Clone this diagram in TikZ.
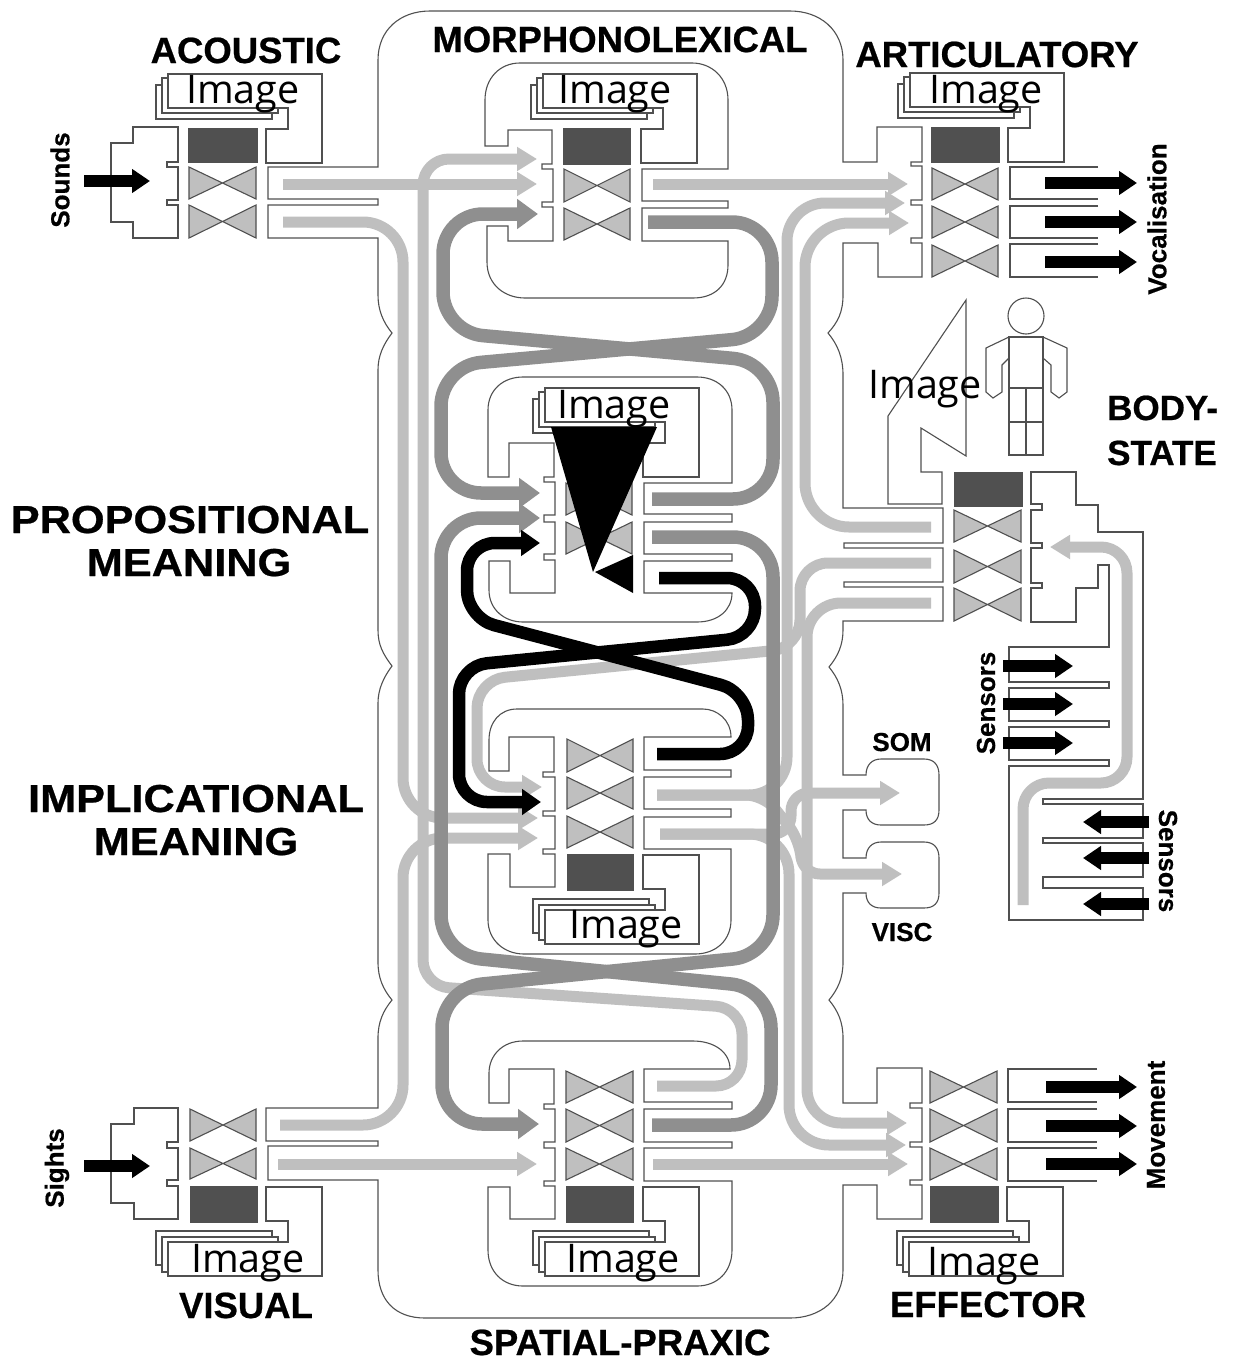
\documentclass[tikz,border=0pt]{standalone}
\usepackage{fontspec}
\setmainfont{Liberation Sans}[BoldFeatures={FakeBold=0.6}]
\newfontfamily\imgfont{Open Sans}
\usetikzlibrary{arrows.meta}
\definecolor{linec}{HTML}{505050}
\definecolor{lightg}{HTML}{BFBFBF}
\definecolor{medg}{HTML}{8F8F8F}
\definecolor{darkb}{HTML}{505050}
\tikzset{
 outl/.style={draw=linec,line width=1.1pt,line join=miter},
 tie/.style={draw=linec,line width=1.1pt,fill=lightg,line join=miter},
 darkrect/.style={fill=darkb,draw=darkb,line width=.5pt},
 lightflow/.style={draw=lightg,line width=11pt,line join=round,-{Triangle[length=20pt,width=23pt]}},
 medflow/.style={draw=medg,line width=13.5pt,line join=round,-{Triangle[length=21pt,width=29pt]}},
 blackflow/.style={draw=black,line width=12.5pt,line join=round,-{Triangle[length=19pt,width=25pt]}},
 bigarrow/.style={draw=black,line width=12pt,-{Triangle[length=18pt,width=23pt]}},
 imgtxt/.style={font=\imgfont\fontsize{39.5}{39.5}\selectfont,anchor=base,inner sep=0pt,text=black},
 title/.style={font=\bfseries\fontsize{36.5}{36.5}\selectfont,anchor=base,inner sep=0pt},
 meaning/.style={font=\bfseries\fontsize{39}{39}\selectfont,anchor=base,inner sep=0pt,xscale=1.11},
 sidelab/.style={font=\bfseries\fontsize{26}{26}\selectfont,anchor=center,inner sep=0pt},
}
\newcommand{\bowt}[4]{\draw[tie] (#1,#2)--(#3,#4)--(#3,#2)--(#1,#4)--cycle;}
\newcommand{\dkbox}[4]{\draw[darkrect] (#1,#2) rectangle (#3,#4);}
\newcommand{\imgstack}[3]{%
 \begin{scope}[shift={(#1,#2)},yscale=#3]
 \draw[outl,fill=white] (-32,-43) rectangle (84,-9);
 \draw[outl,fill=white] (-26,-50) rectangle (90,-15);
 \draw[outl,fill=white] (-20,-54)--(134,-54)--(134,35)--(78,35)--(78,1)--(100,1)--(100,-20)--(-20,-20)--cycle;
 \end{scope}}
\begin{document}
\begin{tikzpicture}[x=1pt,y=-1pt]
\useasboundingbox (0,0) rectangle (1234,1360);
\fill[white] (0,0) rectangle (1234,1360);

% big container with all external subsystem stubs
\draw[outl] (268,167)--(378,167)--(378,60).. controls (378,30) and (400,11) ..(430,11)--(790,11).. controls (820,11) and (843,30) ..(843,60)--(843,162)--(877,162)--(877,127)--(922,127)--(922,162)--(911,162)--(911,166)--(922,166)--(922,200)--(911,200)--(911,205)--(922,205)--(922,238)--(911,238)--(911,243)--(922,243)--(922,277)--(878,277)--(878,243)--(843,243)--(843,295).. controls (843,312) and (838,322) ..(828,333).. controls (838,345) and (843,358) ..(843,375)--(843,508)--(943,508)--(943,543)--(844,543)--(844,548)--(943,548)--(943,582)--(844,582)--(844,587)--(943,587)--(943,621)--(843,621)--(843,630).. controls (843,645) and (838,656) ..(829,667).. controls (838,678) and (843,690) ..(843,705)--(843,775)--(866,775).. controls (866,765) and (872,759) ..(881,759)--(924,759).. controls (934,759) and (939,765) ..(939,775)--(939,810).. controls (939,820) and (934,825) ..(924,825)--(881,825).. controls (872,825) and (866,820) ..(866,810)--(843,810)--(843,858)--(866,858).. controls (866,848) and (872,842) ..(881,842)--(924,842).. controls (934,842) and (939,848) ..(939,858)--(939,893).. controls (939,903) and (934,908) ..(924,908)--(881,908).. controls (872,908) and (866,903) ..(866,893)--(843,893)--(843,962).. controls (843,978) and (838,989) ..(829,1000).. controls (838,1011) and (843,1022) ..(843,1038)--(843,1103)--(877,1103)--(877,1068)--(922,1068)--(922,1103)--(910,1103)--(910,1108)--(922,1108)--(922,1142)--(910,1142)--(910,1147)--(922,1147)--(922,1180)--(910,1180)--(910,1185)--(922,1185)--(922,1219)--(877,1219)--(877,1185)--(843,1185)--(843,1270).. controls (843,1300) and (820,1318) ..(790,1318)--(425,1318).. controls (395,1318) and (378,1300) ..(378,1270)--(378,1180)--(268,1180)--(268,1146)--(378,1146)--(378,1141)--(266,1141)--(266,1108)--(378,1108)--(378,1038).. controls (378,1022) and (383,1011) ..(392,1000).. controls (383,989) and (378,978) ..(378,962)--(378,703).. controls (378,690) and (383,678) ..(392,666).. controls (383,654) and (378,645) ..(378,630)--(378,370).. controls (378,356) and (383,345) ..(392,333).. controls (383,322) and (378,310) ..(378,295)--(378,238)--(268,238)--(268,205)--(378,205)--(378,199)--(268,199)--cycle;

% acoustic
\draw[outl] (133,127)--(178,127)--(178,162)--(167,162)--(167,167)--(178,167)--(178,200)--(167,200)--(167,205)--(178,205)--(178,238)--(133,238)--(133,222)--(111,222)--(111,143)--(133,143)--cycle;
\imgstack{188}{128}{1}
\dkbox{188}{128}{257}{162}
\bowt{189}{167}{256}{199}
\bowt{189}{205}{256}{238}

% morphonolexical
\draw[outl] (485,146)--(508,146)--(508,130)--(552,130)--(552,164)--(542,164)--(542,169)--(553,169)--(553,202)--(542,202)--(542,207)--(553,207)--(553,241)--(508,241)--(508,226)--(487,226)--(487,262).. controls (487,285) and (505,298) ..(525,298)--(693,298).. controls (715,298) and (728,285) ..(728,265)--(728,241)--(642,241)--(642,208)--(728,208)--(728,201)--(642,201)--(642,169)--(728,169)--(728,100).. controls (728,78) and (712,63) ..(692,63)--(520,63).. controls (500,63) and (485,78) ..(485,100)--cycle;
\imgstack{563}{128}{1}
\dkbox{563}{128}{630}{164}
\bowt{564}{169}{630}{202}
\bowt{564}{208}{630}{240}

% articulatory
\imgstack{930}{127}{1}
\dkbox{931}{127}{999}{162}
\bowt{932}{168}{998}{200}
\bowt{932}{206}{998}{238}
\bowt{932}{245}{998}{277}
\draw[outl] (1098,167)--(1010,167)--(1010,199)--(1098,199);
\draw[outl] (1098,206)--(1010,206)--(1010,238)--(1098,238);
\draw[outl] (1098,244)--(1010,244)--(1010,277)--(1098,277);

% propositional
\draw[outl] (488,477)--(509,477)--(509,443)--(554,443)--(554,477)--(544,477)--(544,482)--(555,482)--(555,515)--(544,515)--(544,522)--(555,522)--(555,554)--(544,554)--(544,560)--(555,560)--(555,593)--(510,593)--(510,561)--(489,561)--(489,590).. controls (489,610) and (505,622) ..(523,622)--(697,622).. controls (718,622) and (732,610) ..(732,593)--(644,593)--(644,561)--(732,561)--(732,554)--(644,554)--(644,522)--(732,522)--(732,514)--(644,514)--(644,483)--(732,483)--(732,410).. controls (732,390) and (717,377) ..(697,377)--(523,377).. controls (503,377) and (488,390) ..(488,410)--cycle;
\imgstack{565}{442}{1}
\bowt{566}{483}{632}{515}
\bowt{566}{522}{632}{554}
\fill[black] (595,572)--(633,555)--(633,593)--cycle;

% implicational
\draw[outl] (489,771)--(509,771)--(509,737)--(554,737)--(554,772)--(543,772)--(543,777)--(555,777)--(555,811)--(543,811)--(543,816)--(555,816)--(555,849)--(543,849)--(543,854)--(555,854)--(555,887)--(510,887)--(510,854)--(488,854)--(488,920).. controls (488,940) and (504,954) ..(524,954)--(695,954).. controls (716,954) and (731,940) ..(731,920)--(731,849)--(644,849)--(644,817)--(731,817)--(731,809)--(644,809)--(644,777)--(731,777)--(731,770)--(644,770)--(644,737)--(731,737).. controls (731,720) and (717,709) ..(703,709)--(517,709).. controls (500,709) and (489,722) ..(489,740)--cycle;
\imgstack{565}{890}{-1}
\dkbox{567}{854}{633}{890}
\bowt{567}{739}{633}{772}
\bowt{567}{777}{633}{809}
\bowt{567}{816}{633}{848}

% spatial-praxic
\draw[outl] (489,1103)--(509,1103)--(509,1069)--(554,1069)--(554,1104)--(544,1104)--(544,1109)--(555,1109)--(555,1142)--(544,1142)--(544,1148)--(555,1148)--(555,1181)--(544,1181)--(544,1186)--(555,1186)--(555,1219)--(510,1219)--(510,1187)--(488,1187)--(488,1250).. controls (488,1272) and (503,1286) ..(523,1286)--(697,1286).. controls (717,1286) and (732,1272) ..(732,1250)--(732,1181)--(644,1181)--(644,1148)--(732,1148)--(732,1142)--(644,1142)--(644,1109)--(732,1109)--(732,1102)--(644,1102)--(644,1069)--(730,1069).. controls (730,1052) and (714,1041) ..(693,1041)--(523,1041).. controls (503,1041) and (489,1055) ..(489,1073)--cycle;
\imgstack{565}{1222}{-1}
\dkbox{566}{1186}{633}{1222}
\bowt{566}{1071}{633}{1103}
\bowt{566}{1109}{633}{1142}
\bowt{566}{1148}{633}{1180}

% visual
\draw[outl] (134,1108)--(178,1108)--(178,1142)--(167,1142)--(167,1148)--(178,1148)--(178,1180)--(167,1180)--(167,1186)--(178,1186)--(178,1219)--(134,1219)--(134,1203)--(111,1203)--(111,1124)--(134,1124)--cycle;
\imgstack{188}{1222}{-1}
\dkbox{190}{1186}{257}{1222}
\bowt{190}{1109}{256}{1141}
\bowt{190}{1148}{256}{1179}

% effector
\imgstack{929}{1222}{-1}
\dkbox{930}{1186}{998}{1222}
\bowt{930}{1071}{997}{1103}
\bowt{930}{1109}{997}{1142}
\bowt{930}{1148}{997}{1180}
\draw[outl] (1097,1069)--(1008,1069)--(1008,1102)--(1097,1102);
\draw[outl] (1097,1109)--(1008,1109)--(1008,1142)--(1097,1142);
\draw[outl] (1097,1148)--(1008,1148)--(1008,1181)--(1097,1181);

% body-state
\draw[outl] (888,504)--(888,416)--(966,300)--(966,456)--(921,428)--(921,472)--(942,472)--(942,504)--cycle;
\dkbox{954}{472}{1022}{506}
\bowt{954}{510}{1021}{542}
\bowt{954}{550}{1021}{583}
\bowt{954}{588}{1021}{621}
\draw[outl] (1031,472)--(1076,472)--(1076,505)--(1098,505)--(1098,532)--(1143,532)--(1143,799)--(1043,799)--(1043,804)--(1143,804)--(1143,838)--(1043,838)--(1043,843)--(1143,843)--(1143,877)--(1043,877)--(1043,888)--(1143,888)--(1143,920)--(1009,920)--(1009,766)--(1109,766)--(1109,760)--(1009,760)--(1009,727)--(1109,727)--(1109,721)--(1009,721)--(1009,688)--(1109,688)--(1109,682)--(1009,682)--(1009,647)--(1109,647)--(1109,565)--(1098,565)--(1098,588)--(1076,588)--(1076,622)--(1031,622)--(1031,588)--(1042,588)--(1042,583)--(1031,583)--(1031,548)--(1042,548)--(1042,543)--(1031,543)--(1031,510)--(1042,510)--(1042,504)--(1031,504)--cycle;
% figure
\draw[outl] (1026,316) circle (18);
\draw[outl] (1009,337) rectangle (1043,388);
\draw[outl] (1009,388) rectangle (1043,455);
\draw[outl] (1026,388)--(1026,455);
\draw[outl] (1009,422)--(1043,422);
\draw[outl] (1009,337)--(986,348)--(986,392)--(993,398)--(1002,392)--(1002,365)--(1009,358);
\draw[outl] (1043,337)--(1067,348)--(1067,392)--(1059,398)--(1051,392)--(1051,365)--(1043,358);

% ports
\coordinate (acO1) at (283,184); \coordinate (acO2) at (283,222);
\coordinate (viO1) at (280,1125); \coordinate (viO2) at (278,1164);
\coordinate (moI0) at (537,159); \coordinate (moI1) at (537,184); \coordinate (moI2) at (538,214);
\coordinate (moO1) at (653,184); \coordinate (moO2) at (648,222);
\coordinate (arI1) at (908,184); \coordinate (arI2) at (905,203); \coordinate (arI3) at (909,223);
\coordinate (prI1) at (540,493); \coordinate (prI2) at (540,518); \coordinate (prI3) at (540,543);
\coordinate (prO1) at (652,499); \coordinate (prO2) at (652,537); \coordinate (prO3) at (659,578);
\coordinate (imI0) at (542,787); \coordinate (imI1) at (541,802); \coordinate (imI2) at (538,818); \coordinate (imI3) at (538,838);
\coordinate (imO0) at (657,754); \coordinate (imO1) at (657,795); \coordinate (imO2) at (660,834);
\coordinate (spI1) at (539,1124); \coordinate (spI2) at (537,1164);
\coordinate (spO0) at (657,1086); \coordinate (spO1) at (652,1125); \coordinate (spO2) at (653,1164);
\coordinate (efI1) at (907,1123); \coordinate (efI2) at (906,1145); \coordinate (efI3) at (908,1164);
\coordinate (boO1) at (931,527); \coordinate (boO2) at (931,563); \coordinate (boO3) at (931,603);
\coordinate (boI) at (1050,547); \coordinate (boS) at (1023,905);
\coordinate (soI) at (900,793); \coordinate (viI) at (902,874);

% light flows
\draw[lightflow] (acO1)--(moI1);
\draw[lightflow,rounded corners=40pt] (acO2)--(403,222)--(403,818)--(imI2);
\draw[lightflow,rounded corners=40pt] (viO1)--(403,1125)--(403,838)--(imI3);
\draw[lightflow] (viO2)--(spI2);
\draw[lightflow] (spO2)--(efI3);
\draw[lightflow] (moO1)--(arI1);
\draw[lightflow,rounded corners=26pt] (spO0)--(742,1086)--(742,1008)--(423,986)--(423,159)--(moI0);
\draw[lightflow,rounded corners=44pt] (boO1)--(805,527)--(805,223)--(arI3);
\draw[lightflow,rounded corners=34pt] (boO3)--(807,603)--(807,1123)--(efI1);
\draw[lightflow,rounded corners=28pt] (boO2)--(800,563)--(800,648)--(477,680)--(477,787)--(imI0);
\draw[lightflow,rounded corners=38pt] (imO1)--(787,795)--(787,203)--(arI2);
\draw[lightflow,rounded corners=40pt] (imO2)--(789,834)--(789,1145)--(efI2);
\draw[lightflow,rounded corners=18pt] (imO2)--(791,834)--(791,793)--(soI);
\draw[lightflow,rounded corners=18pt] (imO1)--(764,795)--(800,840)--(802,874)--(viI);
\draw[lightflow,rounded corners=26pt] (boS)--(1023,783)--(1127,783)--(1127,547)--(boI);

% medium flows
\draw[medflow,rounded corners=40pt] (moO2)--(772,222)--(772,336)--(441,366)--(441,493)--(prI1);
\draw[medflow,rounded corners=40pt] (prO1)--(773,499)--(773,362)--(443,332)--(443,214)--(moI2);
\draw[medflow,rounded corners=40pt] (prO2)--(773,537)--(773,955)--(442,988)--(442,1124)--(spI1);
\draw[medflow,rounded corners=40pt] (spO1)--(771,1125)--(771,988)--(441,955)--(441,518)--(prI2);

% black flows
\draw[blackflow,rounded corners=28pt] (prO3)--(755,578)--(755,637)--(459,666)--(459,802)--(imI1);
\draw[blackflow,rounded corners=28pt] (imO0)--(748,754)--(748,692)--(467,618)--(467,543)--(prI3);

% black wedge
\fill[black] (551,427)--(657,427)--(593,572)--cycle;

% input / output arrows
\coordinate (snA) at (84,181); \coordinate (snB) at (150,181);
\coordinate (siA) at (84,1166); \coordinate (siB) at (150,1166);
\draw[bigarrow] (snA)--(snB);
\draw[bigarrow] (siA)--(siB);
\foreach \yy in {183,222,262} {\draw[bigarrow] (1045,\yy)--(1137,\yy);}
\foreach \yy in {1087,1126,1164} {\draw[bigarrow] (1046,\yy)--(1137,\yy);}
\foreach \yy in {666,704,743} {\draw[bigarrow] (1003,\yy)--(1073,\yy);}
\foreach \yy in {822,858,904} {\draw[bigarrow] (1149,\yy)--(1083,\yy);}

% image labels
\node[imgtxt] (imgA) at (243,103) {Image};
\node[imgtxt] (imgM) at (615,103) {Image};
\node[imgtxt] (imgR) at (986,103) {Image};
\node[imgtxt] (imgP) at (614,418) {Image};
\node[imgtxt] (imgI) at (626,938) {Image};
\node[imgtxt] (imgS) at (623,1272) {Image};
\node[imgtxt] (imgV) at (248,1272) {Image};
\node[imgtxt] (imgE) at (984,1275) {Image};
\node[imgtxt] (imgB) at (925,398) {Image};

% titles
\node[title] (tA) at (246,63) {ACOUSTIC};
\node[title] (tM) at (620,52) {MORPHONOLEXICAL};
\node[title] (tR) at (997,67) {ARTICULATORY};
\node[title] (tV) at (246,1318) {VISUAL};
\node[title] (tE) at (988,1317) {EFFECTOR};
\node[title] (tS) at (620,1355) {SPATIAL-PRAXIC};
\node[meaning] (tP1) at (190,533) {PROPOSITIONAL};
\node[meaning] (tP2) at (189,576) {MEANING};
\node[meaning] (tI1) at (196,812) {IMPLICATIONAL};
\node[meaning] (tI2) at (196,855) {MEANING};
\node[font=\bfseries\fontsize{35}{35}\selectfont,anchor=base west,inner sep=0pt] (tB1) at (1107,420) {BODY-};
\node[font=\bfseries\fontsize{35}{35}\selectfont,anchor=base west,inner sep=0pt] (tB2) at (1107,465) {STATE};
\node[sidelab,anchor=base] (tSom) at (902,751) {SOM};
\node[sidelab,anchor=base] (tVis) at (902,941) {VISC};
\node[sidelab,rotate=90] (tSo) at (60,180) {Sounds};
\node[sidelab,rotate=90] (tSi) at (57,1168) {Sights};
\node[sidelab,rotate=90] (tVo) at (1157,219) {Vocalisation};
\node[sidelab,rotate=90] (tMo) at (1156,1125) {Movement};
\node[sidelab,rotate=90] (tSe1) at (986,703) {Sensors};
\node[sidelab,rotate=-90] (tSe2) at (1168,861) {Sensors};
\end{tikzpicture}
\end{document}
